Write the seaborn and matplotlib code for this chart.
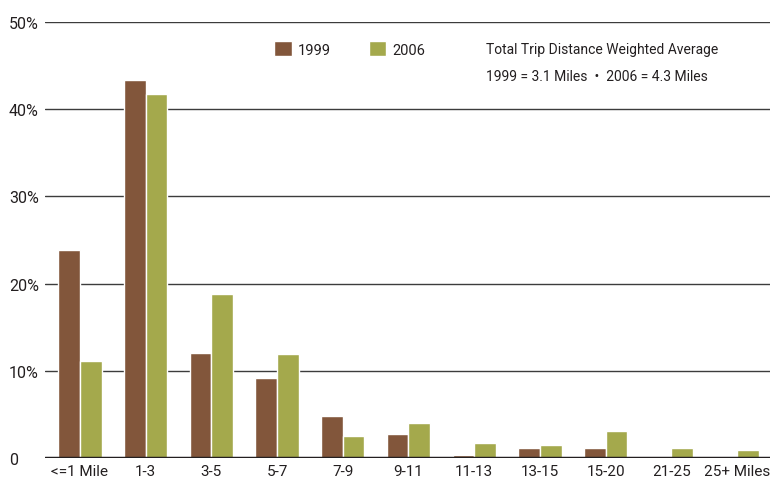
import matplotlib
matplotlib.use("Agg")
import matplotlib.pyplot as plt
from matplotlib.patches import Patch
import seaborn as sns
import pandas as pd

categories = ["<=1 Mile", "1-3", "3-5", "5-7", "7-9", "9-11", "11-13", "13-15", "15-20", "21-25", "25+ Miles"]
values_1999 = [23.8, 43.3, 12.0, 9.2, 4.8, 2.75, 0.3, 1.1, 1.2, 0.0, 0.0]
values_2006 = [11.1, 41.7, 18.8, 11.9, 2.5, 4.0, 1.7, 1.45, 3.1, 1.2, 0.9]
years = ["1999", "2006"]
y_ticks = [0, 10, 20, 30, 40, 50]
y_tick_labels = ["0", "10%", "20%", "30%", "40%", "50%"]
colors = {"1999": "#82563B", "2006": "#A4A94C"}

df = pd.DataFrame({
    "category": categories * 2,
    "year": ["1999"] * len(categories) + ["2006"] * len(categories),
    "value": values_1999 + values_2006,
})

sns.set_theme(style="white")
FONT = ["Roboto", "DejaVu Sans"]
plt.rcParams["font.family"] = FONT
plt.rcParams["text.color"] = "#231f20"

fig = plt.figure(figsize=(7.7, 4.81), dpi=100)
ax = fig.add_axes([45 / 770, 1 - 459 / 481, (770 - 45) / 770, (459 - 23) / 481])

sns.barplot(data=df, x="category", y="value", hue="year", order=categories,
            hue_order=years, palette=colors, saturation=1, width=0.66, gap=0,
            edgecolor="white", linewidth=1.0, legend=False, ax=ax, zorder=3)

ax.set_xlim(-0.53, 10.5)
ax.set_ylim(0, 50)
ax.set_yticks(y_ticks)
ax.set_yticklabels(y_tick_labels)
for t in ax.get_yticklabels():
    t.set_horizontalalignment("left")
ax.tick_params(axis="y", length=0, pad=26, labelsize=11.5, labelcolor="#231f20")
ax.tick_params(axis="x", length=0, pad=4, labelsize=11, labelcolor="#231f20")
ax.set_xlabel("")
ax.set_ylabel("")

for y in y_ticks[1:]:
    ax.axhline(y, color="#3c3c3c", lw=1.0, zorder=1)
ax.axhline(0, color="#231f20", lw=2.5, zorder=4)
for s in ax.spines.values():
    s.set_visible(False)

handles = [Patch(facecolor=colors[y], edgecolor="white", label=y) for y in years]
fig.legend(handles=handles, loc="center left", bbox_to_anchor=(274 / 770, 1 - 50 / 481),
           ncol=2, frameon=False, handlelength=1.2, handleheight=1.2,
           handletextpad=0.4, columnspacing=2.65, fontsize=10.5,
           borderpad=0, borderaxespad=0)

fig.text(486 / 770, 1 - 50 / 481, "Total Trip Distance Weighted Average",
         ha="left", va="center", fontsize=10)
fig.text(486 / 770, 1 - 77 / 481, "1999 = 3.1 Miles  \u2022  2006 = 4.3 Miles",
         ha="left", va="center", fontsize=10)

fig.savefig("out.png", dpi=100)
